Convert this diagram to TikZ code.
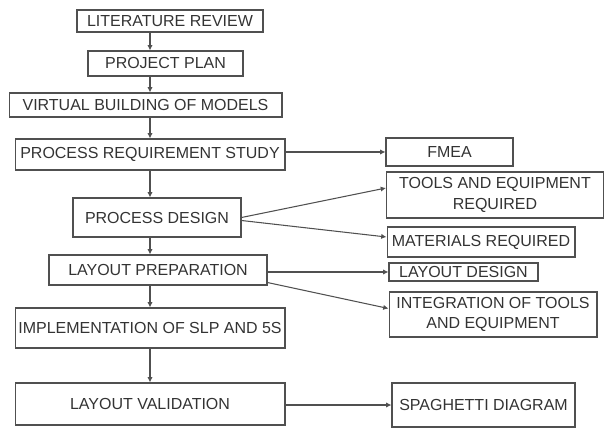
\documentclass[tikz,border=0pt]{standalone}
\usepackage{fontspec}
\setmainfont{Liberation Sans}
\definecolor{boxgray}{RGB}{80, 80, 80}
\usetikzlibrary{arrows.meta, positioning}

\tikzset{
  stage/.style={draw=boxgray, line width=0.6pt, inner sep=0pt, align=center,
    text=black!80, font=\fontsize{9.1pt}{11.5pt}\selectfont},
  flow/.style={draw=boxgray, line width=0.6pt, -{Latex[length=3pt, width=3pt]}}
}

\begin{document}
\begin{tikzpicture}[x=0.02cm, y=-0.02cm]
\useasboundingbox (0,0) rectangle (604,428);
% main column
\node[stage, minimum width=3.72cm, minimum height=0.44cm] (lit) at (170,21) {LITERATURE REVIEW};
\node[stage, minimum width=3.10cm, minimum height=0.50cm] (plan) at (165.5,63.5) {PROJECT PLAN};
\node[stage, minimum width=5.46cm, minimum height=0.48cm] (virt) at (145.5,105) {VIRTUAL BUILDING OF MODELS};
\node[stage, minimum width=5.40cm, minimum height=0.62cm] (prs) at (150,154.5) {PROCESS REQUIREMENT STUDY};
\node[stage, minimum width=3.36cm, minimum height=0.78cm] (pd) at (157,217.5) {PROCESS DESIGN};
\node[stage, minimum width=4.36cm, minimum height=0.60cm] (lp) at (158,270) {LAYOUT PREPARATION};
\node[stage, minimum width=5.40cm, minimum height=0.80cm] (imp) at (150,328) {IMPLEMENTATION OF SLP AND 5S};
\node[stage, minimum width=5.40cm, minimum height=0.84cm] (lv) at (150,404) {LAYOUT VALIDATION};
% side outputs
\node[stage, minimum width=2.54cm, minimum height=0.56cm] (fmea) at (449.5,152) {FMEA};
\node[stage, minimum width=4.34cm, minimum height=0.92cm] (tools) at (495,195) {TOOLS AND EQUIPMENT\\REQUIRED};
\node[stage, minimum width=3.76cm, minimum height=0.60cm] (mat) at (481,242) {MATERIALS REQUIRED};
\node[stage, minimum width=2.98cm, minimum height=0.36cm] (ld) at (463.5,272) {LAYOUT DESIGN};
\node[stage, minimum width=4.16cm, minimum height=0.90cm] (integ) at (493,314.5) {INTEGRATION OF TOOLS\\AND EQUIPMENT};
\node[stage, minimum width=3.66cm, minimum height=0.88cm] (spag) at (483.5,405) {SPAGHETTI DIAGRAM};

% vertical flow
\draw[flow] (lit.south -| prs.north) -- (plan.north -| prs.north);
\draw[flow] (plan.south -| prs.north) -- (virt.north -| prs.north);
\draw[flow] (virt.south -| prs.north) -- (prs.north);
\draw[flow] (prs.south) -- (pd.north -| prs.south);
\draw[flow] (pd.south -| prs.south) -- (lp.north -| prs.south);
\draw[flow] (lp.south -| prs.south) -- (imp.north);
\draw[flow] (imp.south) -- (lv.north);

% side flow
\draw[flow] (prs.east |- fmea.west) -- (fmea.west);
\draw[flow] (pd.east) -- ([yshift=0.14cm]tools.west);
\draw[flow] ([yshift=-0.06cm]pd.east) -- ([yshift=0.10cm]mat.west);
\draw[flow] (lp.east |- ld.west) -- (ld.west);
\draw[flow] ([yshift=0.06cm]lp.south east) -- ([yshift=0.12cm]integ.west);
\draw[flow] (lv.east |- spag.west) -- (spag.west);
\end{tikzpicture}
\end{document}
